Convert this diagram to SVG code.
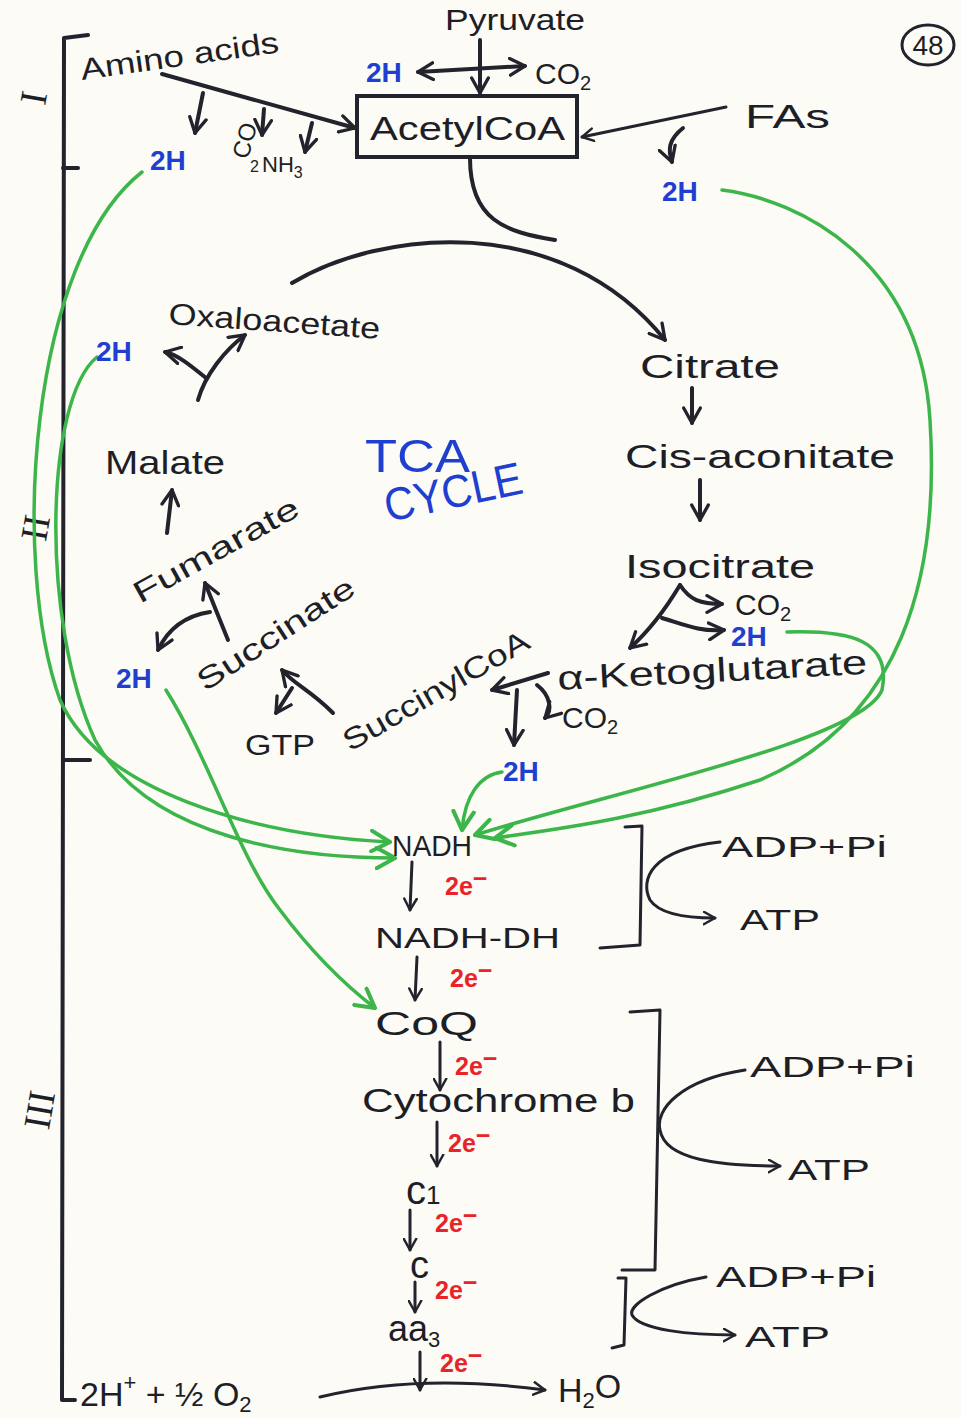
<svg xmlns="http://www.w3.org/2000/svg" width="961" height="1418" viewBox="0 0 961 1418">
<defs>
  <marker id="ah" viewBox="0 0 12 12" refX="10" refY="6" markerWidth="5" markerHeight="5" orient="auto-start-reverse" markerUnits="strokeWidth">
    <path d="M1,1 L10,6 L1,11" fill="none" stroke="#22232c" stroke-width="2" stroke-linecap="round" stroke-linejoin="round"/>
  </marker>
  <marker id="ahg" viewBox="0 0 12 12" refX="10" refY="6" markerWidth="7" markerHeight="7" orient="auto" markerUnits="strokeWidth">
    <path d="M1,1 L10,6 L1,11" fill="none" stroke="#3cb54a" stroke-width="2" stroke-linecap="round" stroke-linejoin="round"/>
  </marker>
</defs>
<style>
  .ink { fill: none; stroke: #22232c; stroke-width: 4; stroke-linecap: round; stroke-linejoin: round; }
  .thin { fill: none; stroke: #22232c; stroke-width: 3; stroke-linecap: round; stroke-linejoin: round; }
  .grn { fill: none; stroke: #3cb54a; stroke-width: 3.5; stroke-linecap: round; }
  .t { font-family: "Liberation Sans", Arial, sans-serif; fill: #1d1e26; }
  .lbl { font-size: 34px; }
  .sm { font-size: 30px; }
  .h2 { font-family: "Liberation Sans", Arial, sans-serif; font-weight: bold; font-size: 28px; fill: #1f3fd0; }
  .e { font-family: "Liberation Sans", Arial, sans-serif; font-weight: bold; font-size: 25px; fill: #e8242a; }
  .blue { font-family: "Liberation Sans", Arial, sans-serif; fill: #1f3fd0; font-size: 46px; }
  .rn { font-family: "Liberation Serif", "Times New Roman", serif; font-size: 38px; fill: #1d1e26; }
</style>
<rect x="0" y="0" width="961" height="1418" fill="#fcfbf5"/>

<!-- stage bracket on the left -->
<g id="stages">
  <path class="ink" d="M88,35 L64,38 L62,1400 L75,1400"/>
  <path class="ink" d="M63,168 L78,168"/>
  <path class="ink" d="M63,760 L90,760"/>
  <text class="rn" transform="translate(46,100) rotate(-80)" text-anchor="middle">I</text>
  <text class="rn" transform="translate(48,530) rotate(-80)" text-anchor="middle">II</text>
  <text class="rn" transform="translate(52,1112) rotate(-80)" text-anchor="middle">III</text>
</g>

<!-- page number -->
<g id="page">
  <ellipse cx="928" cy="45" rx="26" ry="20" fill="none" stroke="#22232c" stroke-width="3"/>
  <text class="t" font-size="28" x="928" y="55" text-anchor="middle">48</text>
</g>

<!-- green hydrogen transfer lines -->
<g id="connectors-h">
  <path class="grn" marker-end="url(#ahg)" d="M142,172 C 30,260 10,560 60,700 C 100,790 250,835 390,842"/>
  <path class="grn" marker-end="url(#ahg)" d="M97,357 C 45,400 40,620 95,740 C 150,840 300,858 395,858"/>
  <path class="grn" marker-end="url(#ahg)" d="M166,690 C 210,760 240,860 280,910 C 310,950 345,985 375,1008"/>
  <path class="grn" marker-end="url(#ahg)" d="M722,190 C 800,200 920,260 930,420 C 940,580 900,720 760,780 C 640,820 550,830 495,838"/>
  <path class="grn" marker-end="url(#ahg)" d="M787,632 C 850,630 892,640 882,690 C 862,740 620,790 475,835"/>
  <path class="grn" marker-end="url(#ahg)" d="M502,772 C 480,775 465,795 462,830"/>
</g>

<!-- black reaction connectors -->
<g id="connectors">
  <!-- pyruvate -->
  <path class="ink" marker-end="url(#ah)" d="M480,40 L480,93"/>
  <path class="ink" marker-start="url(#ah)" marker-end="url(#ah)" d="M418,72 L525,66"/>
  <!-- amino acids -->
  <path class="ink" marker-end="url(#ah)" d="M162,74 L355,128"/>
  <path class="ink" marker-end="url(#ah)" d="M203,93 L195,133"/>
  <path class="ink" marker-end="url(#ah)" d="M264,109 L262,135"/>
  <path class="ink" marker-end="url(#ah)" d="M312,123 L305,152"/>
  <!-- fatty acids -->
  <path class="thin" marker-end="url(#ah)" d="M726,107 L582,137"/>
  <path class="ink" marker-end="url(#ah)" d="M683,128 C 668,140 668,150 672,162"/>
  <!-- into the cycle -->
  <path class="ink" d="M470,158 C 470,220 505,232 555,240"/>
  <path class="ink" marker-end="url(#ah)" d="M292,283 C 380,230 560,210 665,340"/>
  <!-- right side of cycle -->
  <path class="ink" marker-end="url(#ah)" d="M692,388 L692,423"/>
  <path class="ink" marker-end="url(#ah)" d="M700,480 L700,520"/>
  <path class="ink" marker-end="url(#ah)" d="M680,585 C 690,600 700,604 722,604"/>
  <path class="ink" marker-end="url(#ah)" d="M662,618 C 685,625 700,632 724,630"/>
  <path class="ink" marker-end="url(#ah)" d="M680,585 C 665,610 650,630 630,648"/>
  <!-- alpha-ketoglutarate -->
  <path class="ink" marker-end="url(#ah)" d="M548,673 L492,690"/>
  <path class="ink" marker-end="url(#ah)" d="M517,690 L514,745"/>
  <path class="ink" marker-end="url(#ah)" d="M537,685 C 550,695 553,710 545,718"/>
  <!-- left side of cycle -->
  <path class="ink" marker-end="url(#ah)" d="M333,713 C 310,690 295,685 282,670"/>
  <path class="ink" marker-end="url(#ah)" d="M292,688 L276,713"/>
  <path class="ink" marker-end="url(#ah)" d="M228,640 L205,583"/>
  <path class="ink" marker-end="url(#ah)" d="M210,612 C 190,615 170,625 158,650"/>
  <path class="ink" marker-end="url(#ah)" d="M167,533 L172,490"/>
  <path class="ink" marker-end="url(#ah)" d="M198,400 C 205,375 225,350 245,335"/>
  <path class="ink" marker-end="url(#ah)" d="M206,378 C 190,365 178,355 165,352"/>
  <!-- electron transport chain -->
  <path class="thin" marker-end="url(#ah)" d="M412,862 L410,910"/>
  <path class="thin" marker-end="url(#ah)" d="M417,957 L415,1000"/>
  <path class="thin" marker-end="url(#ah)" d="M440,1042 L440,1090"/>
  <path class="thin" marker-end="url(#ah)" d="M437,1122 L437,1166"/>
  <path class="thin" marker-end="url(#ah)" d="M410,1210 L410,1250"/>
  <path class="thin" marker-end="url(#ah)" d="M415,1282 L415,1312"/>
  <path class="thin" marker-end="url(#ah)" d="M420,1352 L420,1390"/>
  <path class="thin" marker-end="url(#ah)" d="M320,1397 C 390,1380 470,1380 545,1390"/>
  <!-- coupling brackets -->
  <path class="thin" d="M625,827 L642,826 L640,945 L600,948"/>
  <path class="thin" marker-end="url(#ah)" d="M720,842 C 650,850 640,880 650,900 C 660,915 690,918 715,918"/>
  <path class="thin" d="M630,1012 L660,1010 L655,1270 L622,1270"/>
  <path class="thin" marker-end="url(#ah)" d="M745,1070 C 680,1080 655,1110 660,1130 C 665,1160 720,1166 780,1166"/>
  <path class="thin" d="M618,1278 L626,1278 L624,1345 L612,1348"/>
  <path class="thin" marker-end="url(#ah)" d="M706,1277 C 660,1285 628,1305 632,1315 C 640,1330 690,1335 735,1335"/>
</g>

<!-- substrate inputs -->
<g id="pyruvate">
  <text class="t sm" x="445" y="30" textLength="140" lengthAdjust="spacingAndGlyphs">Pyruvate</text>
  <text class="h2" x="366" y="82">2H</text>
  <text class="t sm" x="535" y="84">CO<tspan font-size="20" dy="6">2</tspan></text>
</g>
<g id="amino-acids">
  <text class="t sm" transform="translate(82,80) rotate(-8)" textLength="200" lengthAdjust="spacingAndGlyphs">Amino acids</text>
  <text class="h2" x="150" y="170">2H</text>
  <text class="t" font-size="24" transform="translate(248,160) rotate(-75)">CO</text>
  <text class="t" font-size="16" x="250" y="172">2</text>
  <text class="t" font-size="22" x="262" y="172">NH<tspan font-size="16" dy="6">3</tspan></text>
</g>
<g id="acetyl-coa">
  <rect x="357" y="96" width="220" height="61" fill="none" stroke="#22232c" stroke-width="4"/>
  <text class="t lbl" x="370" y="140" textLength="195" lengthAdjust="spacingAndGlyphs">AcetylCoA</text>
</g>
<g id="fatty-acids">
  <text class="t lbl" x="745" y="128" textLength="85" lengthAdjust="spacingAndGlyphs">FAs</text>
  <text class="h2" x="662" y="201">2H</text>
</g>

<!-- TCA cycle intermediates -->
<g id="tca-label">
  <text class="blue" x="365" y="472" textLength="105" lengthAdjust="spacingAndGlyphs">TCA</text>
  <text class="blue" font-size="38" transform="translate(388,522) rotate(-12)" textLength="140" lengthAdjust="spacingAndGlyphs">CYCLE</text>
</g>
<g id="citrate"><text class="t lbl" x="640" y="378" textLength="140" lengthAdjust="spacingAndGlyphs">Citrate</text></g>
<g id="cis-aconitate"><text class="t lbl" x="625" y="468" textLength="270" lengthAdjust="spacingAndGlyphs">Cis-aconitate</text></g>
<g id="isocitrate">
  <text class="t lbl" x="625" y="578" textLength="190" lengthAdjust="spacingAndGlyphs">Isocitrate</text>
  <text class="t sm" x="735" y="615">CO<tspan font-size="20" dy="6">2</tspan></text>
  <text class="h2" x="731" y="646">2H</text>
</g>
<g id="a-ketoglutarate">
  <text class="t lbl" transform="translate(558,690) rotate(-3)" textLength="310" lengthAdjust="spacingAndGlyphs">α-Ketoglutarate</text>
  <text class="t sm" x="562" y="728">CO<tspan font-size="20" dy="6">2</tspan></text>
  <text class="h2" x="503" y="781">2H</text>
</g>
<g id="succinyl-coa"><text class="t sm" transform="translate(350,752) rotate(-30)" textLength="210" lengthAdjust="spacingAndGlyphs">SuccinylCoA</text></g>
<g id="gtp"><text class="t sm" x="245" y="755" textLength="70" lengthAdjust="spacingAndGlyphs">GTP</text></g>
<g id="succinate">
  <text class="t sm" transform="translate(205,692) rotate(-33)" textLength="182" lengthAdjust="spacingAndGlyphs">Succinate</text>
  <text class="h2" x="116" y="688">2H</text>
</g>
<g id="fumarate"><text class="t sm" transform="translate(140,604) rotate(-29)" textLength="185" lengthAdjust="spacingAndGlyphs">Fumarate</text></g>
<g id="malate"><text class="t lbl" x="105" y="474" textLength="120" lengthAdjust="spacingAndGlyphs">Malate</text></g>
<g id="oxaloacetate">
  <text class="t sm" transform="translate(168,324) rotate(4)" textLength="212" lengthAdjust="spacingAndGlyphs">Oxaloacetate</text>
  <text class="h2" x="96" y="361">2H</text>
</g>

<!-- electron transport chain -->
<g id="nadh"><text class="t sm" x="392" y="856" textLength="80" lengthAdjust="spacingAndGlyphs">NADH</text></g>
<g id="nadh-dh"><text class="t sm" x="375" y="948" textLength="185" lengthAdjust="spacingAndGlyphs">NADH-DH</text></g>
<g id="coq"><text class="t lbl" x="375" y="1035" textLength="103" lengthAdjust="spacingAndGlyphs">CoQ</text></g>
<g id="cyt-b"><text class="t lbl" x="362" y="1112" textLength="273" lengthAdjust="spacingAndGlyphs">Cytochrome b</text></g>
<g id="cyt-c1"><text class="t" font-size="40" x="406" y="1204">c<tspan font-size="26" dy="0">1</tspan></text></g>
<g id="cyt-c"><text class="t" font-size="38" x="410" y="1278">c</text></g>
<g id="aa3"><text class="t" font-size="36" x="388" y="1341">aa<tspan font-size="22" dy="6">3</tspan></text></g>
<g id="oxygen"><text class="t lbl" x="80" y="1406">2H<tspan font-size="22" dy="-16">+</tspan><tspan dy="16"> + ½ O</tspan><tspan font-size="22" dy="6">2</tspan></text></g>
<g id="water"><text class="t lbl" x="558" y="1402">H<tspan font-size="22" dy="6">2</tspan><tspan dy="-10">O</tspan></text></g>
<g id="electrons">
  <text class="e" x="445" y="895">2e<tspan dy="-8">−</tspan></text>
  <text class="e" x="450" y="987">2e<tspan dy="-8">−</tspan></text>
  <text class="e" x="455" y="1075">2e<tspan dy="-8">−</tspan></text>
  <text class="e" x="448" y="1152">2e<tspan dy="-8">−</tspan></text>
  <text class="e" x="435" y="1232">2e<tspan dy="-8">−</tspan></text>
  <text class="e" x="435" y="1299">2e<tspan dy="-8">−</tspan></text>
  <text class="e" x="440" y="1372">2e<tspan dy="-8">−</tspan></text>
</g>

<!-- phosphorylation sites -->
<g id="atp-1">
  <text class="t sm" x="722" y="857" textLength="165" lengthAdjust="spacingAndGlyphs">ADP+Pi</text>
  <text class="t sm" x="740" y="930" textLength="80" lengthAdjust="spacingAndGlyphs">ATP</text>
</g>
<g id="atp-2">
  <text class="t sm" x="750" y="1077" textLength="165" lengthAdjust="spacingAndGlyphs">ADP+Pi</text>
  <text class="t sm" x="788" y="1180" textLength="82" lengthAdjust="spacingAndGlyphs">ATP</text>
</g>
<g id="atp-3">
  <text class="t sm" x="716" y="1287" textLength="160" lengthAdjust="spacingAndGlyphs">ADP+Pi</text>
  <text class="t sm" x="745" y="1347" textLength="85" lengthAdjust="spacingAndGlyphs">ATP</text>
</g>
</svg>
